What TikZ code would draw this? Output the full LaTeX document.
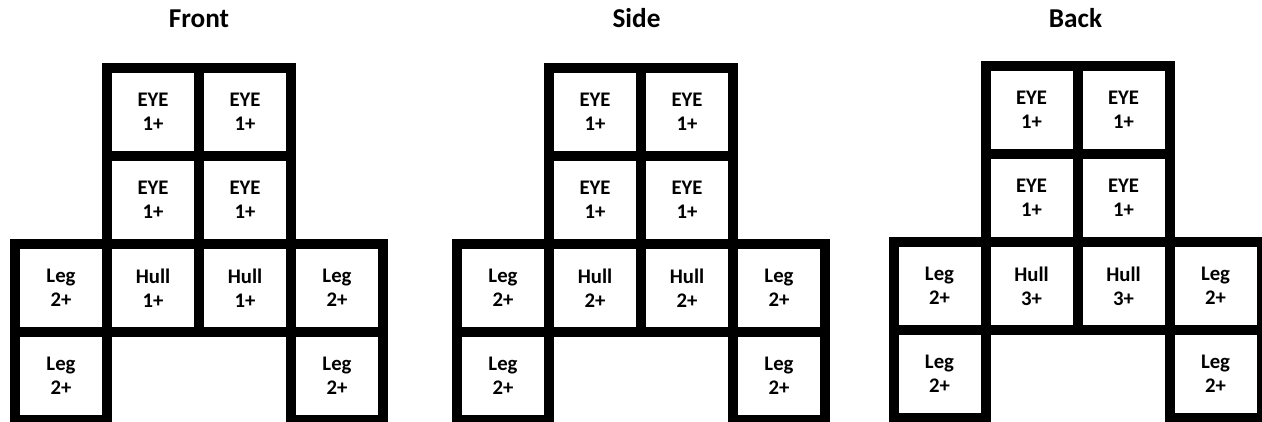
\documentclass[tikz,border=0pt]{standalone}
\usepackage{fontspec}
\setmainfont{Carlito}
\usepackage{tikz}
\usetikzlibrary{positioning}
\tikzset{
  viewtitle/.style={anchor=base, inner sep=0pt, font=\fontsize{15.5}{18}\selectfont\bfseries},
  cell/.style={draw=black, line width=0.2cm, minimum width=1.84cm, minimum height=1.76cm, inner sep=0pt, align=center, font=\fontsize{11.8}{13.8}\selectfont\bfseries}
}
\begin{document}
\begin{tikzpicture}
\useasboundingbox (0,0) rectangle (25.24,-8.44);
% front
\node[viewtitle] (ftitle) at (3.98,-0.56) {Front};
\node[cell] (feye1) at (3.06,-2.24) {EYE\\1+};
\node[cell] (feye2) at (4.90,-2.24) {EYE\\1+};
\node[cell] (feye3) at (3.06,-4.00) {EYE\\1+};
\node[cell] (feye4) at (4.90,-4.00) {EYE\\1+};
\node[cell] (fleg1) at (1.22,-5.76) {Leg\\2+};
\node[cell] (fhull1) at (3.06,-5.76) {Hull\\1+};
\node[cell] (fhull2) at (4.90,-5.76) {Hull\\1+};
\node[cell] (fleg2) at (6.74,-5.76) {Leg\\2+};
\node[cell] (fleg3) at (1.22,-7.52) {Leg\\2+};
\node[cell] (fleg4) at (6.74,-7.52) {Leg\\2+};
% side
\node[viewtitle] (stitle) at (12.73,-0.56) {Side};
\node[cell] (seye1) at (11.90,-2.24) {EYE\\1+};
\node[cell] (seye2) at (13.74,-2.24) {EYE\\1+};
\node[cell] (seye3) at (11.90,-4.00) {EYE\\1+};
\node[cell] (seye4) at (13.74,-4.00) {EYE\\1+};
\node[cell] (sleg1) at (10.06,-5.76) {Leg\\2+};
\node[cell] (shull1) at (11.90,-5.76) {Hull\\2+};
\node[cell] (shull2) at (13.74,-5.76) {Hull\\2+};
\node[cell] (sleg2) at (15.58,-5.76) {Leg\\2+};
\node[cell] (sleg3) at (10.06,-7.52) {Leg\\2+};
\node[cell] (sleg4) at (15.58,-7.52) {Leg\\2+};
% back
\node[viewtitle] (btitle) at (21.51,-0.56) {Back};
\node[cell] (beye1) at (20.63,-2.20) {EYE\\1+};
\node[cell] (beye2) at (22.47,-2.20) {EYE\\1+};
\node[cell] (beye3) at (20.63,-3.96) {EYE\\1+};
\node[cell] (beye4) at (22.47,-3.96) {EYE\\1+};
\node[cell] (bleg1) at (18.79,-5.72) {Leg\\2+};
\node[cell] (bhull1) at (20.63,-5.72) {Hull\\3+};
\node[cell] (bhull2) at (22.47,-5.72) {Hull\\3+};
\node[cell] (bleg2) at (24.31,-5.72) {Leg\\2+};
\node[cell] (bleg3) at (18.79,-7.48) {Leg\\2+};
\node[cell] (bleg4) at (24.31,-7.48) {Leg\\2+};
\end{tikzpicture}
\end{document}
